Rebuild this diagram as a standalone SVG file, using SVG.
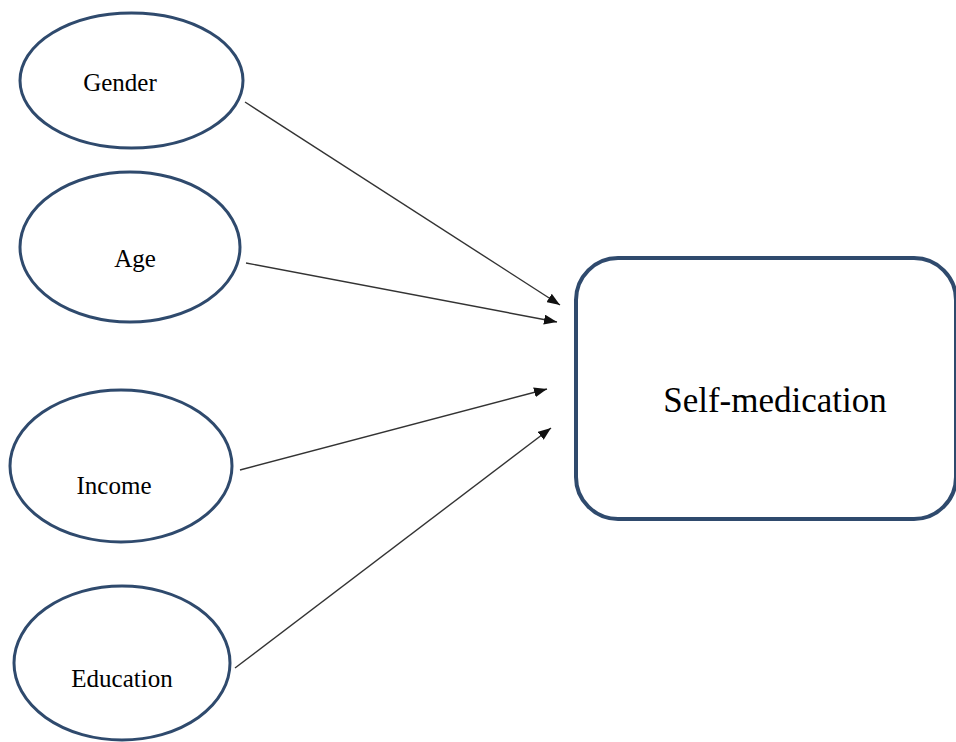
<svg xmlns="http://www.w3.org/2000/svg" width="956" height="742" viewBox="0 0 956 742">
<style>
.node ellipse{fill:#fff;stroke:#2f4a6d;stroke-width:3}
.box{fill:#fff;stroke:#2f4a6d;stroke-width:4}
.lbl{font-family:"Liberation Serif","Times New Roman",serif;font-size:25px;fill:#000;text-anchor:middle}
.big{font-size:35px}
.conn line{stroke:#333;stroke-width:1.4;marker-end:url(#ah)}
</style>
<defs>
<marker id="ah" markerUnits="userSpaceOnUse" markerWidth="14" markerHeight="10" refX="13" refY="5" orient="auto">
<path d="M0,0 L13,5 L0,10 Z" fill="#111"/>
</marker>
</defs>
<rect width="956" height="742" fill="#fff"/>
<g id="gender" class="node">
<ellipse cx="131.5" cy="80.5" rx="111.5" ry="67.5"/>
<text class="lbl" x="120" y="91">Gender</text>
</g>
<g id="age" class="node">
<ellipse cx="130" cy="247" rx="110" ry="75"/>
<text class="lbl" x="135" y="267">Age</text>
</g>
<g id="income" class="node">
<ellipse cx="121" cy="466" rx="111" ry="76"/>
<text class="lbl" x="114" y="494">Income</text>
</g>
<g id="education" class="node">
<ellipse cx="122" cy="663" rx="108" ry="77"/>
<text class="lbl" x="122" y="687">Education</text>
</g>
<g id="self-medication">
<rect class="box" x="576" y="258" width="380" height="261" rx="42" ry="42"/>
<text class="lbl big" x="775" y="412">Self-medication</text>
</g>
<g id="connectors" class="conn">
<line x1="245" y1="102" x2="560" y2="305"/>
<line x1="246" y1="263" x2="557" y2="322"/>
<line x1="240" y1="470" x2="547" y2="389"/>
<line x1="235" y1="668" x2="551" y2="428"/>
</g>
</svg>
